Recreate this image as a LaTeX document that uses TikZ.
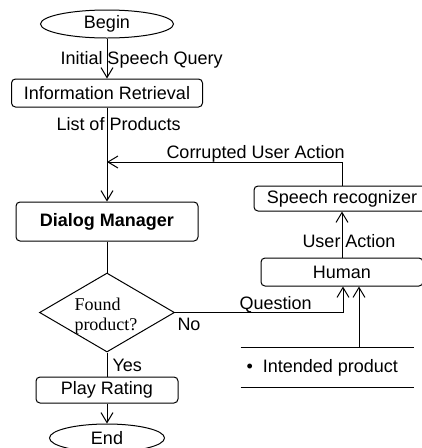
\documentclass[tikz,border=0pt]{standalone}
\usepackage{fontspec}
\setmainfont{Liberation Sans}
\newfontfamily\timesf{Liberation Serif}
\usetikzlibrary{arrows.meta,shapes.geometric}
\begin{document}
\begin{tikzpicture}[x=1pt,y=-1pt,
  font=\fontsize{18}{21}\selectfont, line width=1pt,
  box/.style={draw, rounded corners=4pt, inner sep=0pt},
  term/.style={draw, ellipse, inner sep=0pt},
  arr/.style={-{Straight Barb[length=10pt,width=12pt]}},
  lbl/.style={inner sep=0pt, anchor=base west}]
\useasboundingbox (0,0) rectangle (422,448);
\clip (0,0) rectangle (422,448);
% nodes
\node[term, minimum width=133pt, minimum height=28pt] (begin) at (107,24) {Begin};
\node[box, minimum width=191pt, minimum height=28pt] (ir) at (107,93) {Information Retrieval};
\node[box, minimum width=182pt, minimum height=39pt, font=\fontsize{18}{21}\selectfont\bfseries] (dm) at (107,221.5) {Dialog Manager};
\node[draw, diamond, inner sep=0pt, minimum width=135pt, minimum height=79pt] (dec) at (107,312.5) {};
\node[lbl, font=\fontsize{18}{21}\selectfont\timesf] (dect1) at (74,310) {Found};
\node[lbl, font=\fontsize{18}{21}\selectfont\timesf] (dect2) at (74,330) {product?};
\node[box, minimum width=142pt, minimum height=26pt] (pr) at (107,390) {Play Rating};
\node[term, minimum width=115pt, minimum height=28pt] (end) at (107,438) {End};
\node[box, minimum width=176pt, minimum height=25pt] (sr) at (342,198.5) {Speech recognizer};
\node[box, minimum width=162pt, minimum height=28pt] (hu) at (342,272) {Human};
\node[inner sep=0pt, minimum width=172pt, minimum height=39pt] (ds) at (327,367.5) {};
\draw (ds.north west) -- (ds.north east) (ds.south west) -- (ds.south east);
\node[lbl] (dstext) at (246,372) {\textbullet\ \ Intended product};
\coordinate (join) at (107,162);
% connectors
\draw[arr] (begin) -- (ir);
\draw[arr] (ir) -- (dm);
\draw[arr] (sr.north) |- (join);
\draw (dm) -- (dec);
\draw[arr] (dec.east) -| ([xshift=1pt]hu.south);
\draw[arr] ([xshift=32pt]ds.north) -- ([xshift=32pt]ds.north |- hu.south);
\draw[arr] (hu) -- (sr);
\draw (dec.south) -- (pr.north);
\draw[arr] (pr) -- (end);
% labels
\node[lbl] (l1) at (60,64) {Initial Speech Query};
\node[lbl] (l2) at (56,130) {List of Products};
\node[lbl] (l3) at (166,158) {Corrupted User Action};
\node[lbl] (l4) at (302,247) {User Action};
\node[lbl] (l5) at (239,309) {Question};
\node[lbl] (l6) at (177,330) {No};
\node[lbl] (l7) at (112,371) {Yes};
\end{tikzpicture}
\end{document}
